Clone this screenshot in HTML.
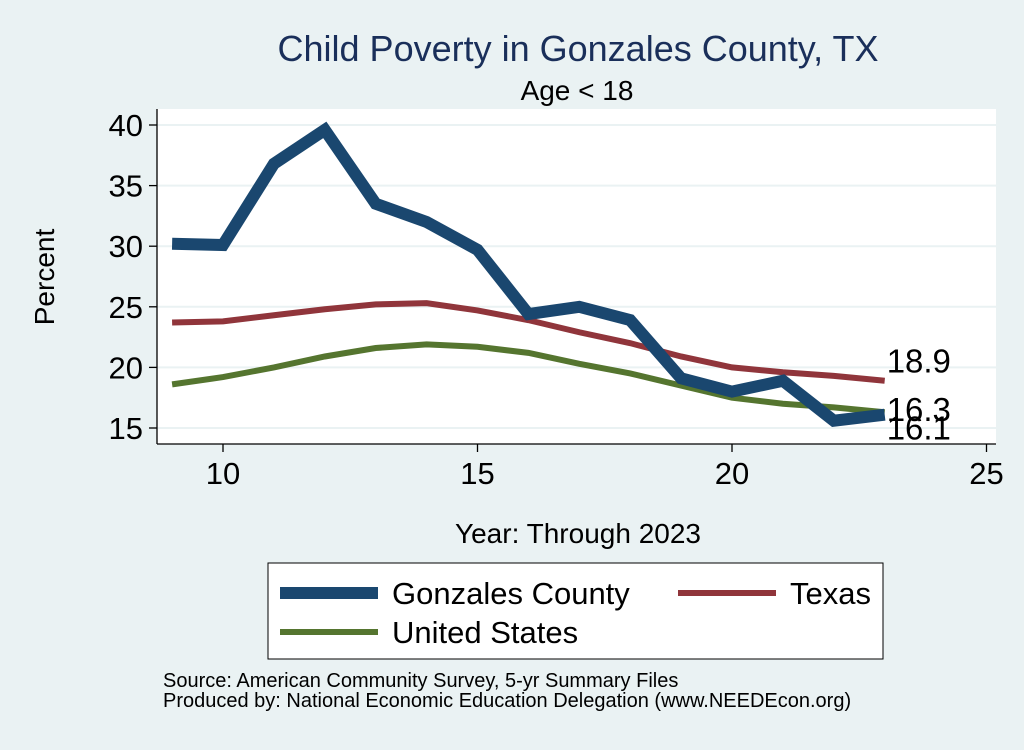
<!DOCTYPE html>
<html><head><meta charset="utf-8"><style>
body{margin:0;background:#eaf2f3;font-family:"Liberation Sans",sans-serif}
</style></head><body>
<svg width="1024" height="745" viewBox="0 0 1024 745" font-family="Liberation Sans, sans-serif">
<rect width="1024" height="745" fill="#eaf2f3"/>
<text x="578" y="61" font-size="36" fill="#1a2f5a" text-anchor="middle">Child Poverty in Gonzales County, TX</text>
<text x="577" y="100" font-size="28" text-anchor="middle">Age &lt; 18</text>
<rect x="157" y="109" width="839" height="335" fill="#fff"/>
<g id="grid"></g>
<g id="axes"></g>
<g id="series"></g>
<text x="54" y="277" font-size="28" text-anchor="middle" transform="rotate(-90 54 277)">Percent</text>
<text x="578" y="543" font-size="28" text-anchor="middle">Year: Through 2023</text>
<g>
<rect x="268" y="563" width="615" height="96" fill="#fff" stroke="#000" stroke-width="1"/>
<line x1="280" y1="593" x2="378" y2="593" stroke="#1a476f" stroke-width="12"/>
<text x="392" y="604" font-size="31">Gonzales County</text>
<line x1="678" y1="593" x2="776" y2="593" stroke="#90353b" stroke-width="6"/>
<text x="790" y="604" font-size="31">Texas</text>
<line x1="280" y1="632" x2="378" y2="632" stroke="#55752f" stroke-width="6"/>
<text x="392" y="643" font-size="31">United States</text>
</g>
<text x="163" y="687" font-size="20">Source: American Community Survey, 5-yr Summary Files</text>
<text x="163" y="707" font-size="20">Produced by: National Economic Education Delegation (www.NEEDEcon.org)</text>
</svg>
<script>
const years=[9,10,11,12,13,14,15,16,17,18,19,20,21,22,23];
const gonzales=[30.2,30.1,36.8,39.6,33.5,32.0,29.7,24.4,25.0,23.9,19.1,18.0,18.9,15.6,16.1];
const texas=[23.7,23.8,24.3,24.8,25.2,25.3,24.7,23.9,22.9,22.0,20.9,20.0,19.6,19.3,18.9];
const us=[18.6,19.2,20.0,20.9,21.6,21.9,21.7,21.2,20.3,19.5,18.5,17.5,17.0,16.7,16.3];
const xTicks=[10,15,20,25];
const yTicks=[15,20,25,30,35,40];
const NS='http://www.w3.org/2000/svg';
function X(v){return 223+(v-10)*50.9;}
function Y(v){return 428-(v-15)*12.12;}
function mk(tag,attrs,parent,text){const e=document.createElementNS(NS,tag);for(const k in attrs)e.setAttribute(k,attrs[k]);if(text!==undefined)e.textContent=text;document.getElementById(parent).appendChild(e);return e;}
yTicks.forEach(t=>{
 const g=mk('line',{x1:157,x2:996,y1:Y(t),y2:Y(t),stroke:'#eaf2f3','stroke-width':2},'grid');
 
 
 const tk=mk('line',{x1:149,x2:157,y1:Y(t),y2:Y(t),stroke:'#000','stroke-width':1.3},'axes');
 
 
 const lb=mk('text',{x:143,y:Y(t)+11,'font-size':31,'text-anchor':'end'},'axes',t);
 
 
});
xTicks.forEach(t=>{
 const tk=mk('line',{x1:X(t),x2:X(t),y1:444,y2:452,stroke:'#000','stroke-width':1.3},'axes');
 
 
 const lb=mk('text',{x:X(t),y:484,'font-size':31,'text-anchor':'middle'},'axes',t);
 
 
});
const ya=mk('line',{x1:157,x2:157,y1:109,y2:444,stroke:'#000','stroke-width':1.3},'axes');


const xa=mk('line',{x1:157,x2:996,y1:444,y2:444,stroke:'#000','stroke-width':1.3},'axes');


function series(vals,color,w,name){
 const p=mk('polyline',{points:vals.map((v,i)=>X(years[i])+','+Y(v)).join(' '),fill:'none',stroke:color,'stroke-width':w,'stroke-linejoin':'miter'},'series');
 
 
}
series(us,'#55752f',6,'line-united-states');
series(texas,'#90353b',6,'line-texas');
series(gonzales,'#1a476f',12,'line-gonzales');
const n=years.length-1;
[[texas[n],'label-texas-last',-8],[us[n],'label-us-last',9],[gonzales[n],'label-gonzales-last',25]].forEach(([v,nm,dy])=>{
 const l=mk('text',{x:X(years[n])+2,y:Y(v)+dy,'font-size':33},'series',v.toFixed(1));
 
 
});
</script>
</body></html>
